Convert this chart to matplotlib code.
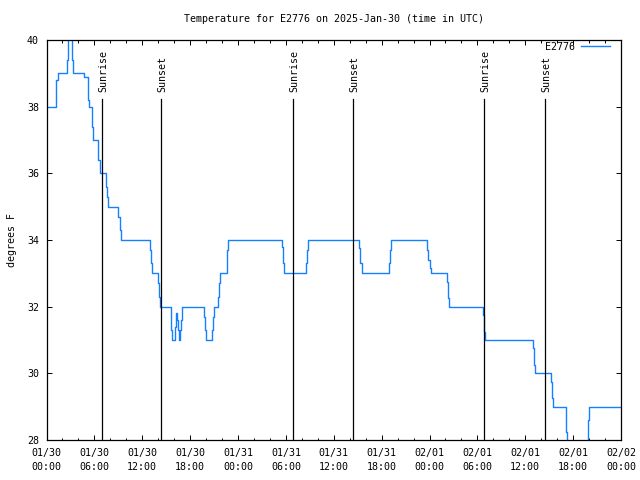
import matplotlib
matplotlib.use("Agg")
import matplotlib.pyplot as plt
import matplotlib.transforms as mtransforms
from matplotlib.ticker import FixedLocator, MultipleLocator

# ---- data (hours since 2025-01-30 00:00 UTC, temperature degF, change points) ----
hours = [0.0, 1.19, 1.44, 2.53, 2.73, 3.23, 3.30, 4.74, 5.16, 5.36, 5.74, 5.87,
         6.50, 6.70, 7.49, 7.60, 7.74, 9.00, 9.15, 9.30, 13.00, 13.13, 13.25,
         14.00, 14.12, 14.26, 15.56, 15.73, 16.06, 16.20, 16.40, 16.50, 16.65,
         16.77, 16.85, 16.95, 19.77, 19.90, 20.03, 20.78, 20.85, 20.95, 21.49,
         21.62, 21.74, 22.58, 22.68, 22.78, 29.55, 29.65, 29.80, 32.56, 32.68,
         32.81, 39.16, 39.30, 39.50, 42.96, 43.08, 43.20, 47.72, 47.85, 48.00,
         48.20, 50.22, 50.35, 50.48, 54.74, 54.86, 54.99, 61.00, 61.12, 61.25,
         63.26, 63.38, 63.51, 65.06, 65.19, 67.82, 68.02, 71.90]
temps = [38, 38.8, 39, 39.4, 40.6, 39.4, 39, 38.9, 38.2, 38, 37.4, 37,
         36.4, 36, 35.6, 35.3, 35, 34.7, 34.3, 34, 33.7, 33.3, 33,
         32.7, 32.3, 32, 31.3, 31, 31.4, 31.8, 31.6, 31.3, 31,
         31.3, 31.6, 32, 31.7, 31.3, 31, 31.3, 31.7, 32, 32.3,
         32.7, 33, 33.3, 33.7, 34, 33.8, 33.3, 33, 33.3, 33.7,
         34, 33.75, 33.3, 33, 33.3, 33.7, 34, 33.7, 33.4, 33.15,
         33, 32.75, 32.25, 32, 31.75, 31.25, 31, 30.75, 30.25, 30,
         29.75, 29.25, 29, 28.25, 27.7, 28.6, 29, 29]

sun_events = [6.95, 14.37, 30.93, 38.42, 54.88, 62.47]
sun_labels = ["Sunrise", "Sunset", "Sunrise", "Sunset", "Sunrise", "Sunset"]

xtick_pos = [0, 6, 12, 18, 24, 30, 36, 42, 48, 54, 60, 66, 72]
xtick_labels = ["01/30\n00:00", "01/30\n06:00", "01/30\n12:00", "01/30\n18:00",
                "01/31\n00:00", "01/31\n06:00", "01/31\n12:00", "01/31\n18:00",
                "02/01\n00:00", "02/01\n06:00", "02/01\n12:00", "02/01\n18:00",
                "02/02\n00:00"]
ytick_pos = [28, 30, 32, 34, 36, 38, 40]
series_name = "E2776"
title = "Temperature for E2776 on 2025-Jan-30 (time in UTC)"
ylabel = "degrees F"

FONT = "DejaVu Sans Mono"
FS = 7.2
plt.rcParams['font.family'] = [FONT]

fig = plt.figure(figsize=(6.4, 4.8), dpi=100)
ax = fig.add_axes([46.5/640, 40/480, (621-46.5)/640, 400/480])

line_color = '#1580ff'
ax.plot(hours, temps, drawstyle='steps-post', color=line_color, lw=1.0,
        label=series_name, clip_on=True)

ax.set_xlim(0, 72)
ax.set_ylim(28, 40)

# sunrise / sunset markers
trans = mtransforms.blended_transform_factory(ax.transData, ax.transAxes)
for t, lab in zip(sun_events, sun_labels):
    ax.plot([t, t], [0, 0.853], transform=trans, color='black', lw=0.9)
    off = mtransforms.offset_copy(trans, fig=fig, x=1.2, y=0, units='dots')
    ax.text(t, 0.87, lab, transform=off, rotation=90, ha='center', va='bottom',
            fontsize=FS, family=FONT)

ax.xaxis.set_major_locator(FixedLocator(xtick_pos))
ax.set_xticklabels(xtick_labels)
ax.xaxis.set_minor_locator(MultipleLocator(2))
ax.yaxis.set_major_locator(FixedLocator(ytick_pos))
ax.set_yticklabels([str(v) for v in ytick_pos])

ax.tick_params(axis='both', which='major', direction='in', length=3.3, width=0.7,
               top=True, right=True, labelsize=FS)
ax.tick_params(axis='x', which='minor', direction='in', length=1.8, width=0.7,
               top=True, bottom=True)
ax.tick_params(axis='x', which='major', pad=6)
ax.tick_params(axis='y', which='major', pad=5.5)
for lbl in ax.get_xticklabels():
    lbl.set_linespacing(1.4)
for s in ax.spines.values():
    s.set_linewidth(0.9)

fig.text(333.7/640, 1 - 19/480, title, ha='center', va='center', fontsize=FS, family=FONT)
fig.text(12/640, 0.5, ylabel, rotation=90, ha='center', va='center', fontsize=FS, family=FONT)

leg = ax.legend(loc='upper right', bbox_to_anchor=(1 - 11/574.5, 1 - 2/400),
                frameon=False, markerfirst=False, handlelength=2.95,
                handletextpad=0.6, borderpad=0, borderaxespad=0,
                prop={'family': FONT, 'size': FS})

fig.savefig("out.png", dpi=100)
